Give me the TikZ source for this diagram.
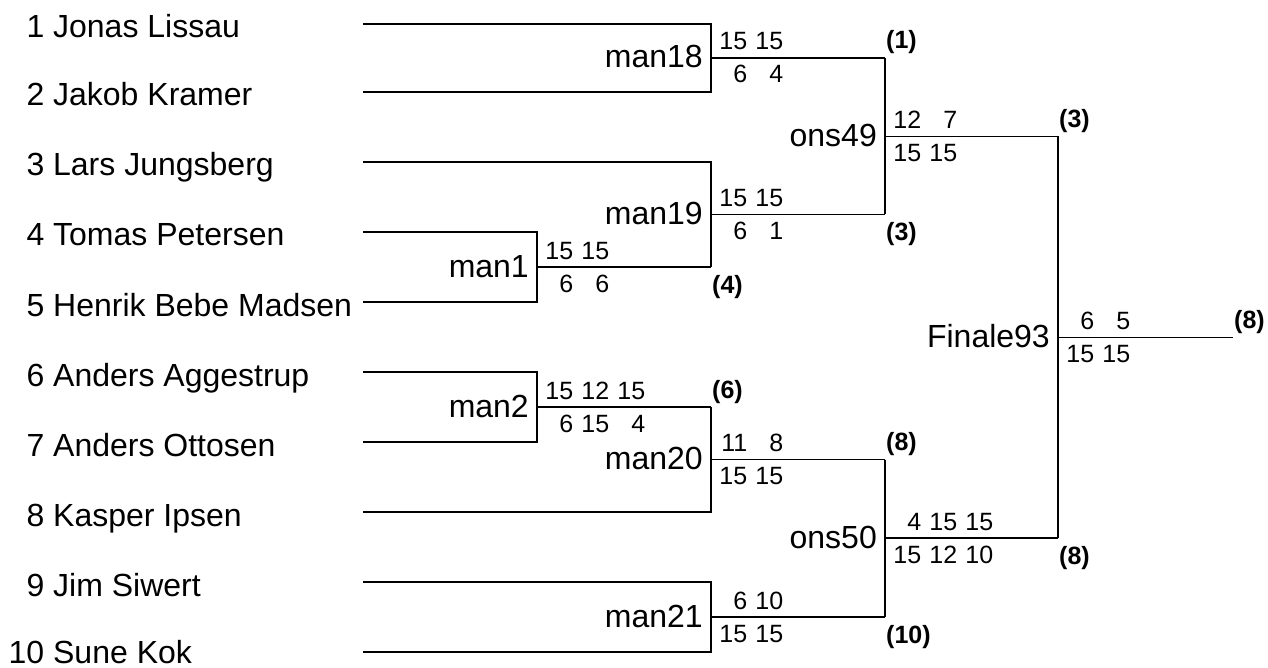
\documentclass[tikz,border=0pt]{standalone}
\usepackage{fontspec}
\setmainfont{Liberation Sans}
\newcommand\scell[1]{\makebox[36pt][r]{#1}}
\newcommand\pnum[1]{\makebox[35.6pt][r]{#1}}
\begin{document}
\begin{tikzpicture}[x=1pt,y=-1pt,
  bline/.style={line width=1.5pt, black},
  pname/.style={anchor=base west, inner sep=0pt, font=\fontsize{32}{38}\selectfont},
  mlabel/.style={anchor=base east, inner sep=0pt, xshift=-8pt, yshift=-10pt, font=\fontsize{32}{38}\selectfont},
  sctop/.style={anchor=base west, inner sep=0pt, yshift=8pt, font=\fontsize{25}{30}\selectfont},
  scbot/.style={anchor=base west, inner sep=0pt, yshift=-25pt, font=\fontsize{25}{30}\selectfont},
  seedup/.style={anchor=base west, inner sep=0pt, xshift=1pt, yshift=9pt, font=\fontsize{25}{30}\selectfont\bfseries},
  seeddn/.style={anchor=base west, inner sep=0pt, xshift=1pt, yshift=-26pt, font=\fontsize{25}{30}\selectfont\bfseries}]
\useasboundingbox (0,0) rectangle (1268,668);

% player names
\node[pname] (n1) at (8.5,38) {\pnum{1} Jonas Lissau};
\node[pname] (n2) at (8.5,106) {\pnum{2} Jakob Kramer};
\node[pname] (n3) at (8.5,176) {\pnum{3} Lars Jungsberg};
\node[pname] (n4) at (8.5,246) {\pnum{4} Tomas Petersen};
\node[pname] (n5) at (8.5,316) {\pnum{5} Henrik Bebe Madsen};
\node[pname] (n6) at (8.5,386) {\pnum{6} Anders Aggestrup};
\node[pname] (n7) at (8.5,456) {\pnum{7} Anders Ottosen};
\node[pname] (n8) at (8.5,526) {\pnum{8} Kasper Ipsen};
\node[pname] (n9) at (8.5,596) {\pnum{9} Jim Siwert};
\node[pname] (n10) at (8.5,663.5) {\pnum{10} Sune Kok};

% line starts
\coordinate (s1) at (363,24);
\coordinate (s2) at (363,92);
\coordinate (s3) at (363,162);
\coordinate (s4) at (363,232);
\coordinate (s5) at (363,302);
\coordinate (s6) at (363,372);
\coordinate (s7) at (363,442);
\coordinate (s8) at (363,512);
\coordinate (s9) at (363,582);
\coordinate (s10) at (363,652);

% match junctions and ends
\coordinate (m18) at (711,58);   \coordinate (e18) at (885,58);
\coordinate (m1) at (537,267);   \coordinate (e1) at (711,267);
\coordinate (m19) at (711,214.5);\coordinate (e19) at (885,214.5);
\coordinate (o49) at (885,136.5);\coordinate (e49) at (1058,136.5);
\coordinate (m2) at (537,407);   \coordinate (e2) at (711,407);
\coordinate (m20) at (711,459.5);\coordinate (e20) at (885,459.5);
\coordinate (m21) at (711,617);  \coordinate (e21) at (885,617);
\coordinate (o50) at (885,538.2);\coordinate (e50) at (1058,538.2);
\coordinate (f93) at (1058,337.4);\coordinate (e93) at (1233,337.4);

% bracket lines
\draw[bline] (s1) -| (m18) |- (s2);
\draw[bline] (m18) -- (e18);
\draw[bline] (s4) -| (m1) |- (s5);
\draw[bline] (m1) -- (e1);
\draw[bline] (s3) -| (m19) -- (e1);
\draw[bline] (m19) -- (e19);
\draw[bline] (e18) -- (e19);
\draw[bline] (o49) -- (e49);
\draw[bline] (s6) -| (m2) |- (s7);
\draw[bline] (m2) -- (e2);
\draw[bline] (e2) -- (m20) |- (s8);
\draw[bline] (m20) -- (e20);
\draw[bline] (s9) -| (m21) |- (s10);
\draw[bline] (m21) -- (e21);
\draw[bline] (e20) -- (e21);
\draw[bline] (o50) -- (e50);
\draw[bline] (e49) -- (e50);
\draw[bline] (f93) -- (e93);

% match labels
\node[mlabel] (lm18) at (m18) {man18};
\node[mlabel] (lm1) at (m1) {man1};
\node[mlabel] (lm19) at (m19) {man19};
\node[mlabel] (lo49) at (o49) {ons49};
\node[mlabel] (lm2) at (m2) {man2};
\node[mlabel] (lm20) at (m20) {man20};
\node[mlabel] (lm21) at (m21) {man21};
\node[mlabel] (lo50) at (o50) {ons50};
\node[mlabel] (lf93) at (f93) {Finale93};

% scores
\node[sctop] (t18) at (m18) {\scell{15}\scell{15}};
\node[scbot] (b18) at (m18) {\scell{6}\scell{4}};
\node[sctop] (t1) at (m1) {\scell{15}\scell{15}};
\node[scbot] (b1) at (m1) {\scell{6}\scell{6}};
\node[sctop] (t19) at (m19) {\scell{15}\scell{15}};
\node[scbot] (b19) at (m19) {\scell{6}\scell{1}};
\node[sctop] (t49) at (o49) {\scell{12}\scell{7}};
\node[scbot] (b49) at (o49) {\scell{15}\scell{15}};
\node[sctop] (t2) at (m2) {\scell{15}\scell{12}\scell{15}};
\node[scbot] (b2) at (m2) {\scell{6}\scell{15}\scell{4}};
\node[sctop] (t20) at (m20) {\scell{11}\scell{8}};
\node[scbot] (b20) at (m20) {\scell{15}\scell{15}};
\node[sctop] (t21) at (m21) {\scell{6}\scell{10}};
\node[scbot] (b21) at (m21) {\scell{15}\scell{15}};
\node[sctop] (t50) at (o50) {\scell{4}\scell{15}\scell{15}};
\node[scbot] (b50) at (o50) {\scell{15}\scell{12}\scell{10}};
\node[sctop] (t93) at (f93) {\scell{6}\scell{5}};
\node[scbot] (b93) at (f93) {\scell{15}\scell{15}};

% seeds
\node[seedup] (w18) at (e18) {(1)};
\node[seedup] (w49) at (e49) {(3)};
\node[seeddn] (w19) at (e19) {(3)};
\node[seeddn] (w1) at (e1) {(4)};
\node[seedup] (w2) at (e2) {(6)};
\node[seedup] (w20) at (e20) {(8)};
\node[seeddn] (w50) at (e50) {(8)};
\node[seeddn] (w21) at (e21) {(10)};
\node[seedup] (w93) at (e93) {(8)};
\end{tikzpicture}
\end{document}
